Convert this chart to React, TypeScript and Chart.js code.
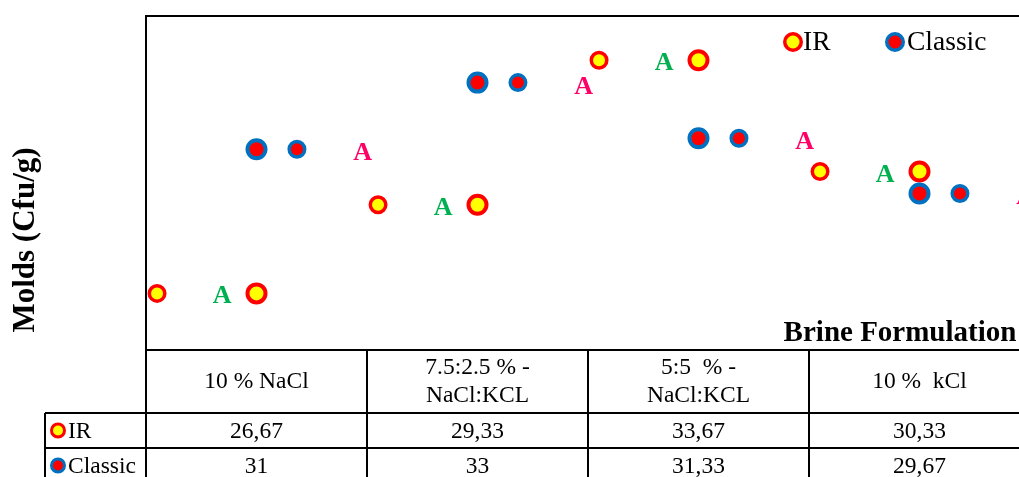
import React, { useEffect, useRef } from "react";
import { Chart, registerables } from "chart.js";

Chart.register(...registerables);

// ---- data ----
const categories: string[][] = [
  ["10 % NaCl"],
  ["7.5:2.5 % -", "NaCl:KCL"],
  ["5:5  % -", "NaCl:KCL"],
  ["10 %  kCl"],
];
const irValues: number[] = [26.67, 29.33, 33.67, 30.33];
const classicValues: number[] = [31, 33, 31.33, 29.67];
const irTableLabels: string[] = ["26,67", "29,33", "33,67", "30,33"];
const classicTableLabels: string[] = ["31", "33", "31,33", "29,67"];
const irLetters: string[] = ["A", "A", "A", "A"];
const classicLetters: string[] = ["A", "A", "A", "A"];
const seriesNames: string[] = ["IR", "Classic"];
const yTitle = "Molds (Cfu/g)";
const xTitle = "Brine Formulation";

// ---- style ----
const IR_FILL = "#FFFF00";
const IR_BORDER = "#FF0000";
const CL_FILL = "#FF0000";
const CL_BORDER = "#0070C0";
const GREEN = "#00B050";
const PINK = "#FF0066";
const SERIF = "'Liberation Serif', 'Times New Roman', serif";

const OFF_IR_SMALL = -0.45;
const OFF_CL_SMALL = 0.183;
const OFF_IR_LETTER = -0.155;
const OFF_CL_LETTER = 0.48;

function marker(ctx: CanvasRenderingContext2D, x: number, y: number, r: number, lw: number, fill: string, border: string) {
  ctx.beginPath();
  ctx.arc(x, y, r, 0, Math.PI * 2);
  ctx.fillStyle = fill;
  ctx.fill();
  ctx.lineWidth = lw;
  ctx.strokeStyle = border;
  ctx.stroke();
}

const decorPlugin = {
  id: "decor",
  afterDraw(chart: any) {
    const ctx: CanvasRenderingContext2D = chart.ctx;
    const area = chart.chartArea;
    const xs = chart.scales.x;
    const ys = chart.scales.y;
    ctx.save();

    // letters
    ctx.font = `bold 26px ${SERIF}`;
    ctx.textAlign = "center";
    ctx.textBaseline = "alphabetic";
    irValues.forEach((v, i) => {
      ctx.fillStyle = GREEN;
      ctx.fillText(irLetters[i], xs.getPixelForValue(i + 0.5 + OFF_IR_LETTER), ys.getPixelForValue(v) + 10);
    });
    classicValues.forEach((v, i) => {
      ctx.fillStyle = PINK;
      ctx.fillText(classicLetters[i], xs.getPixelForValue(i + 0.5 + OFF_CL_LETTER), ys.getPixelForValue(v) + 11);
    });

    // plot border (top + left)
    ctx.strokeStyle = "#000";
    ctx.lineWidth = 2;
    ctx.beginPath();
    ctx.moveTo(area.left, chart.height);
    ctx.lineTo(area.left, area.top);
    ctx.lineTo(area.right, area.top);
    ctx.lineTo(area.right, area.bottom);
    ctx.stroke();

    // legend
    ctx.font = `27.5px ${SERIF}`;
    ctx.textAlign = "left";
    marker(ctx, 793, 42, 8.25, 3.5, IR_FILL, IR_BORDER);
    ctx.fillStyle = "#000";
    ctx.fillText(seriesNames[0], 803, 50);
    marker(ctx, 895, 42, 8.25, 3.5, CL_FILL, CL_BORDER);
    ctx.fillStyle = "#000";
    ctx.fillText(seriesNames[1], 907, 50);

    // x title
    ctx.font = `bold 29px ${SERIF}`;
    ctx.textAlign = "center";
    ctx.fillStyle = "#000";
    ctx.fillText(xTitle, 900, 341);

    // y title
    ctx.save();
    ctx.translate(26, 240);
    ctx.rotate(-Math.PI / 2);
    ctx.font = `bold 31px ${SERIF}`;
    ctx.textAlign = "center";
    ctx.textBaseline = "middle";
    ctx.fillStyle = "#000";
    ctx.fillText(yTitle, 0, 0);
    ctx.restore();

    // data table
    const tTop = area.bottom + 1;
    const r1 = 413;
    const r2 = 448;
    const r3 = 483;
    const tLeft = 45;
    const colX = [0, 1, 2, 3, 4].map((i) => Math.round(xs.getPixelForValue(i)));
    ctx.strokeStyle = "#000";
    ctx.lineWidth = 2;
    ctx.beginPath();
    ctx.moveTo(area.left, tTop);
    ctx.lineTo(colX[4], tTop);
    [r1, r2, r3].forEach((y) => {
      ctx.moveTo(tLeft, y);
      ctx.lineTo(colX[4], y);
    });
    ctx.moveTo(tLeft, r1);
    ctx.lineTo(tLeft, r3);
    colX.forEach((x) => {
      ctx.moveTo(x, tTop);
      ctx.lineTo(x, r3);
    });
    ctx.stroke();

    ctx.font = `23.5px ${SERIF}`;
    ctx.fillStyle = "#000";
    ctx.textAlign = "center";
    ctx.textBaseline = "middle";
    categories.forEach((lines, i) => {
      const cx = (colX[i] + colX[i + 1]) / 2;
      const mid = (tTop + r1) / 2;
      const lh = 28;
      lines.forEach((ln, j) => {
        ctx.fillText(ln, cx, mid + (j - (lines.length - 1) / 2) * lh);
      });
      ctx.fillText(irTableLabels[i], cx, (r1 + r2) / 2 + 1);
      ctx.fillText(classicTableLabels[i], cx, (r2 + r3) / 2 + 1);
    });
    ctx.textAlign = "left";
    marker(ctx, 58, (r1 + r2) / 2, 6.5, 3, IR_FILL, IR_BORDER);
    ctx.fillStyle = "#000";
    ctx.fillText(seriesNames[0], 68, (r1 + r2) / 2 + 1);
    marker(ctx, 58, (r2 + r3) / 2, 6.5, 3, CL_FILL, CL_BORDER);
    ctx.fillStyle = "#000";
    ctx.fillText(seriesNames[1], 68, (r2 + r3) / 2 + 1);

    ctx.restore();
  },
};

export default function App() {
  const ref = useRef<HTMLCanvasElement>(null);
  useEffect(() => {
    if (!ref.current) return;
    const pts = (vals: number[], off: number) => vals.map((v, i) => ({ x: i + 0.5 + off, y: v }));
    const chart = new Chart(ref.current, {
      type: "scatter",
      data: {
        datasets: [
          { label: "Classic", data: pts(classicValues, 0), pointRadius: 9, pointBorderWidth: 4, backgroundColor: CL_FILL, borderColor: CL_BORDER },
          { label: "Classic small", data: pts(classicValues, OFF_CL_SMALL), pointRadius: 7.75, pointBorderWidth: 3.5, backgroundColor: CL_FILL, borderColor: CL_BORDER },
          { label: "IR", data: pts(irValues, 0), pointRadius: 9, pointBorderWidth: 4, backgroundColor: IR_FILL, borderColor: IR_BORDER },
          { label: "IR small", data: pts(irValues, OFF_IR_SMALL), pointRadius: 7.75, pointBorderWidth: 3.5, backgroundColor: IR_FILL, borderColor: IR_BORDER },
        ] as any,
      },
      options: {
        responsive: false,
        animation: false,
        clip: false as any,
        layout: { padding: { left: 146, top: 16, right: 30, bottom: 128 } },
        scales: {
          x: { type: "linear", min: 0, max: 4, display: false },
          y: { type: "linear", min: 25, max: 35, display: false },
        },
        plugins: { legend: { display: false }, tooltip: { enabled: false } },
      },
      plugins: [decorPlugin],
    });
    return () => chart.destroy();
  }, []);
  return (
    <div style={{ position: "fixed", left: 0, top: 0, width: 1019, height: 477, overflow: "hidden", background: "#fff" }}>
      <canvas ref={ref} width={1060} height={477} style={{ display: "block", width: 1060, height: 477 }} />
    </div>
  );
}
